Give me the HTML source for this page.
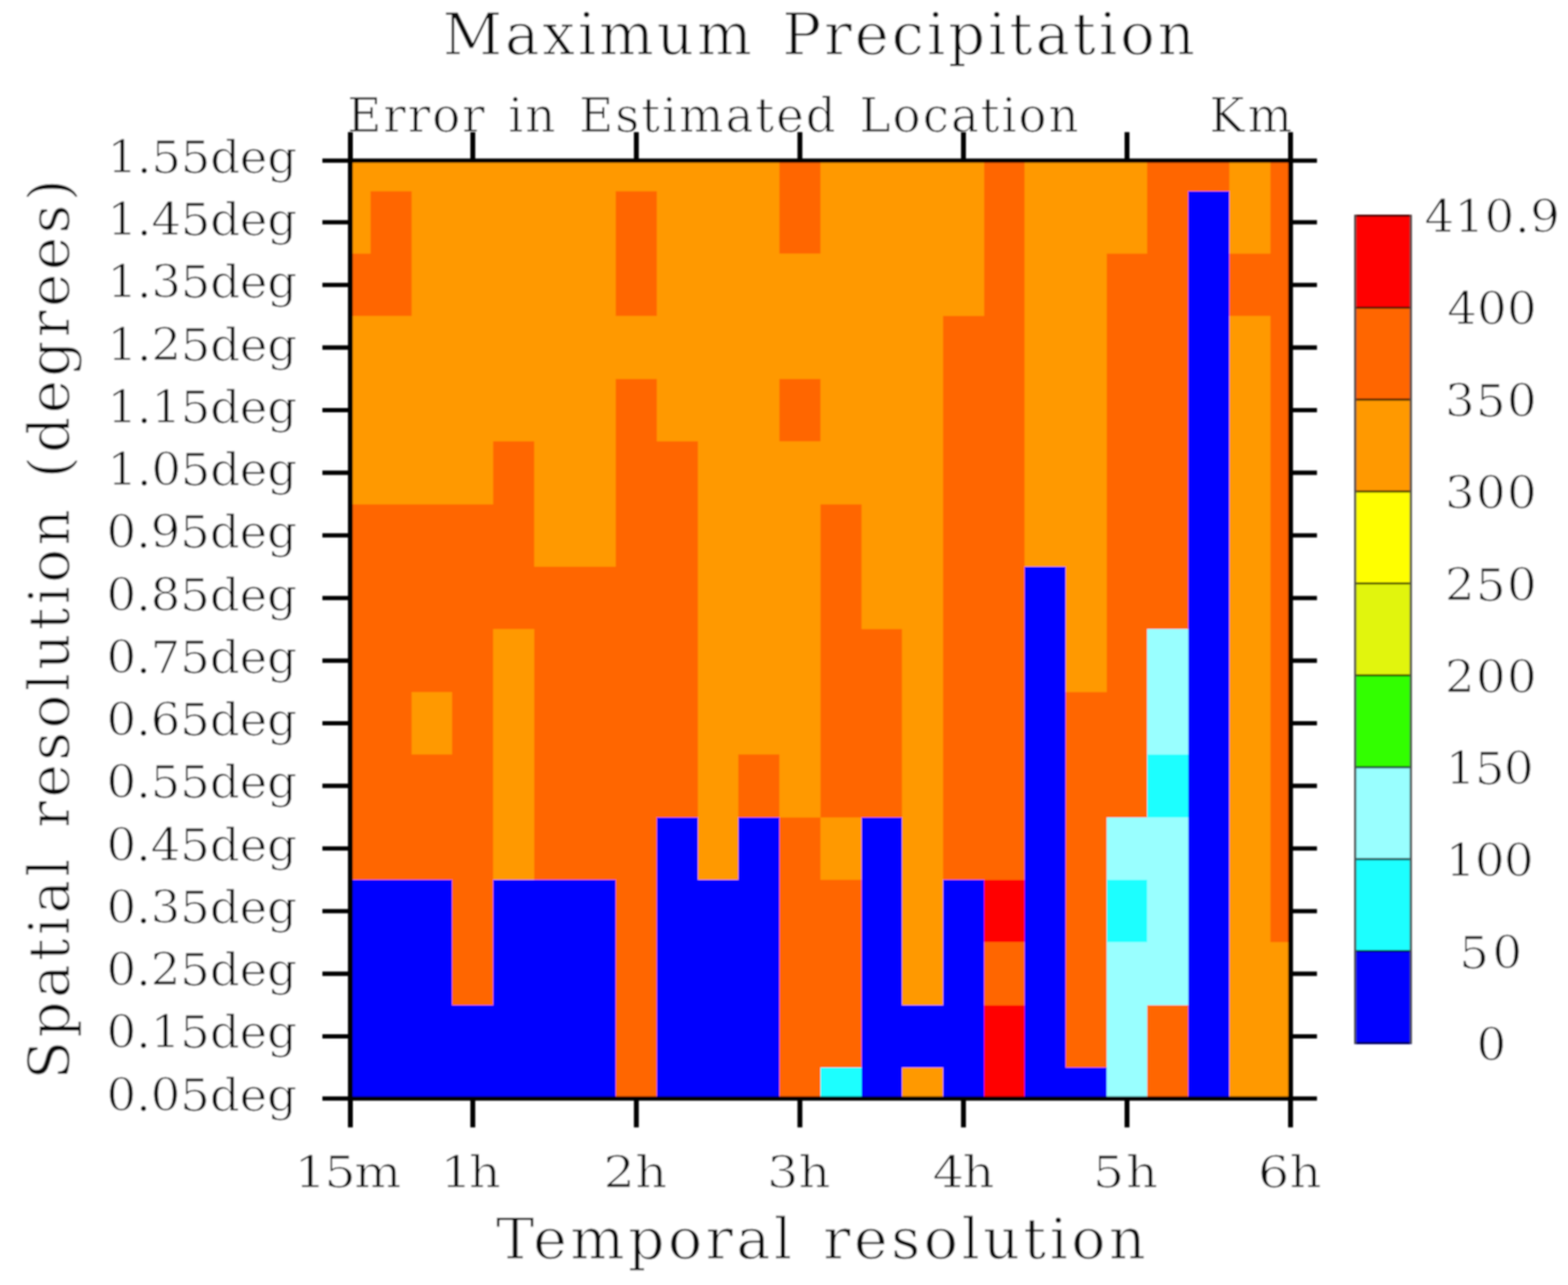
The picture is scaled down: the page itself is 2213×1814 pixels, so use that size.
<!DOCTYPE html>
<html lang="en"><head><meta charset="utf-8"><title>Maximum Precipitation</title>
<style>
html,body{margin:0;padding:0;background:#fff;}
body{width:2213px;height:1814px;overflow:hidden;}
svg{display:block;}
text{font-family:'DejaVu Serif', 'Liberation Serif', serif;font-stretch:normal;font-weight:400;font-style:normal;fill:#0a0a0a;white-space:pre;}
</style></head><body>
<svg width="2213" height="1814" viewBox="0 0 2213 1814" role="img" aria-label="Maximum Precipitation heat map">
<defs><filter id="ft" filterUnits="userSpaceOnUse" x="0" y="0" width="2213" height="1814"><feGaussianBlur stdDeviation="0.85"/></filter><filter id="fg" filterUnits="userSpaceOnUse" x="0" y="0" width="2213" height="1814"><feGaussianBlur stdDeviation="0.85"/></filter></defs>
<rect x="0" y="0" width="2213" height="1814" fill="#ffffff"/>
<g filter="url(#ft)" stroke="#fff" stroke-linejoin="round">
<text transform="translate(624.70 77.00)" font-size="82.0" stroke-width="1.35" letter-spacing="3.815" word-spacing="9.0">Maximum Precipitation</text>
<text transform="translate(490.00 185.70)" font-size="66.4" stroke-width="1.1" letter-spacing="2.604" word-spacing="7.0">Error in Estimated Location</text>
<text transform="translate(1706.70 185.70)" font-size="66.4" stroke-width="1.1" letter-spacing="4.500">Km</text>
<text transform="translate(700.00 1777.30)" font-size="81.0" stroke-width="1.35" letter-spacing="4.550" word-spacing="9.0">Temporal resolution</text>
<text transform="translate(97.60 1524.00) rotate(-90)" font-size="80.0" stroke-width="1.35" letter-spacing="4.519" word-spacing="9.0">Spatial resolution (degrees)</text>
<text transform="translate(151.44 243.90) scale(1.045 1)" font-size="63.4" stroke-width="1.1" letter-spacing="-0.582">1.55deg</text>
<text transform="translate(151.44 332.15) scale(1.045 1)" font-size="63.4" stroke-width="1.1" letter-spacing="-0.582">1.45deg</text>
<text transform="translate(151.44 420.39) scale(1.045 1)" font-size="63.4" stroke-width="1.1" letter-spacing="-0.582">1.35deg</text>
<text transform="translate(151.44 508.64) scale(1.045 1)" font-size="63.4" stroke-width="1.1" letter-spacing="-0.582">1.25deg</text>
<text transform="translate(151.44 596.89) scale(1.045 1)" font-size="63.4" stroke-width="1.1" letter-spacing="-0.582">1.15deg</text>
<text transform="translate(151.44 685.13) scale(1.045 1)" font-size="63.4" stroke-width="1.1" letter-spacing="-0.582">1.05deg</text>
<text transform="translate(150.22 773.38) scale(1.045 1)" font-size="63.4" stroke-width="1.1" letter-spacing="-0.388">0.95deg</text>
<text transform="translate(150.22 861.63) scale(1.045 1)" font-size="63.4" stroke-width="1.1" letter-spacing="-0.388">0.85deg</text>
<text transform="translate(150.22 949.87) scale(1.045 1)" font-size="63.4" stroke-width="1.1" letter-spacing="-0.388">0.75deg</text>
<text transform="translate(150.22 1038.12) scale(1.045 1)" font-size="63.4" stroke-width="1.1" letter-spacing="-0.388">0.65deg</text>
<text transform="translate(150.22 1126.37) scale(1.045 1)" font-size="63.4" stroke-width="1.1" letter-spacing="-0.388">0.55deg</text>
<text transform="translate(150.22 1214.61) scale(1.045 1)" font-size="63.4" stroke-width="1.1" letter-spacing="-0.388">0.45deg</text>
<text transform="translate(150.22 1302.86) scale(1.045 1)" font-size="63.4" stroke-width="1.1" letter-spacing="-0.388">0.35deg</text>
<text transform="translate(150.22 1391.11) scale(1.045 1)" font-size="63.4" stroke-width="1.1" letter-spacing="-0.388">0.25deg</text>
<text transform="translate(150.22 1479.35) scale(1.045 1)" font-size="63.4" stroke-width="1.1" letter-spacing="-0.388">0.15deg</text>
<text transform="translate(150.22 1567.60) scale(1.045 1)" font-size="63.4" stroke-width="1.1" letter-spacing="-0.388">0.05deg</text>
<text transform="translate(415.44 1675.80) scale(1.12 1)" font-size="62.6" stroke-width="1.1" letter-spacing="-2.089">15m</text>
<text transform="translate(621.43 1675.80) scale(1.12 1)" font-size="62.6" stroke-width="1.1" letter-spacing="-3.929">1h</text>
<text transform="translate(851.42 1675.80) scale(1.12 1)" font-size="62.6" stroke-width="1.1" letter-spacing="0.482">2h</text>
<text transform="translate(1082.60 1675.80) scale(1.12 1)" font-size="62.6" stroke-width="1.1" letter-spacing="-0.232">3h</text>
<text transform="translate(1315.89 1675.80) scale(1.12 1)" font-size="62.6" stroke-width="1.1" letter-spacing="-1.714">4h</text>
<text transform="translate(1542.30 1675.80) scale(1.12 1)" font-size="62.6" stroke-width="1.1" letter-spacing="2.107">5h</text>
<text transform="translate(1775.32 1675.80) scale(1.12 1)" font-size="62.6" stroke-width="1.1" letter-spacing="0.107">6h</text>
<text transform="translate(2010.21 328.00) scale(1.045 1)" font-size="63.4" stroke-width="1.1" letter-spacing="0.413">410.9</text>
<text transform="translate(2042.36 457.90) scale(1.045 1)" font-size="63.4" stroke-width="1.1" letter-spacing="0.060">400</text>
<text transform="translate(2039.22 587.80) scale(1.045 1)" font-size="63.4" stroke-width="1.1" letter-spacing="1.560">350</text>
<text transform="translate(2039.22 717.70) scale(1.045 1)" font-size="63.4" stroke-width="1.1" letter-spacing="1.560">300</text>
<text transform="translate(2039.22 847.60) scale(1.045 1)" font-size="63.4" stroke-width="1.1" letter-spacing="1.560">250</text>
<text transform="translate(2039.22 977.50) scale(1.045 1)" font-size="63.4" stroke-width="1.1" letter-spacing="1.560">200</text>
<text transform="translate(2040.24 1107.40) scale(1.045 1)" font-size="63.4" stroke-width="1.1" letter-spacing="-0.911">150</text>
<text transform="translate(2040.24 1237.30) scale(1.045 1)" font-size="63.4" stroke-width="1.1" letter-spacing="-0.911">100</text>
<text transform="translate(2059.43 1367.20) scale(1.045 1)" font-size="63.4" stroke-width="1.1" letter-spacing="4.450">50</text>
<text transform="translate(2083.77 1497.10) scale(1.045 1)" font-size="63.4" stroke-width="1.1" letter-spacing="0.000">0</text>
</g>
<g filter="url(#fg)">
<g shape-rendering="crispEdges">
<rect x="494.50" y="226.70" width="606.20" height="43.50" fill="#ff9900"/>
<rect x="1100.10" y="226.70" width="58.31" height="43.50" fill="#ff6600"/>
<rect x="1157.81" y="226.70" width="231.44" height="43.50" fill="#ff9900"/>
<rect x="1388.65" y="226.70" width="58.31" height="43.50" fill="#ff6600"/>
<rect x="1446.36" y="226.70" width="173.73" height="43.50" fill="#ff9900"/>
<rect x="1619.49" y="226.70" width="116.02" height="43.50" fill="#ff6600"/>
<rect x="1734.91" y="226.70" width="58.31" height="43.50" fill="#ff9900"/>
<rect x="1792.62" y="226.70" width="29.38" height="43.50" fill="#ff6600"/>
<rect x="494.50" y="269.60" width="29.10" height="89.00" fill="#ff9900"/>
<rect x="523.00" y="269.60" width="58.31" height="89.00" fill="#ff6600"/>
<rect x="580.71" y="269.60" width="289.15" height="89.00" fill="#ff9900"/>
<rect x="869.26" y="269.60" width="58.31" height="89.00" fill="#ff6600"/>
<rect x="926.97" y="269.60" width="173.73" height="89.00" fill="#ff9900"/>
<rect x="1100.10" y="269.60" width="58.31" height="89.00" fill="#ff6600"/>
<rect x="1157.81" y="269.60" width="231.44" height="89.00" fill="#ff9900"/>
<rect x="1388.65" y="269.60" width="58.31" height="89.00" fill="#ff6600"/>
<rect x="1446.36" y="269.60" width="173.73" height="89.00" fill="#ff9900"/>
<rect x="1619.49" y="269.60" width="58.31" height="89.00" fill="#ff6600"/>
<rect x="1677.20" y="269.60" width="58.31" height="89.00" fill="#0000ff"/>
<rect x="1734.91" y="269.60" width="58.31" height="89.00" fill="#ff9900"/>
<rect x="1792.62" y="269.60" width="29.38" height="89.00" fill="#ff6600"/>
<rect x="494.50" y="358.00" width="86.81" height="89.00" fill="#ff6600"/>
<rect x="580.71" y="358.00" width="289.15" height="89.00" fill="#ff9900"/>
<rect x="869.26" y="358.00" width="58.31" height="89.00" fill="#ff6600"/>
<rect x="926.97" y="358.00" width="462.28" height="89.00" fill="#ff9900"/>
<rect x="1388.65" y="358.00" width="58.31" height="89.00" fill="#ff6600"/>
<rect x="1446.36" y="358.00" width="116.02" height="89.00" fill="#ff9900"/>
<rect x="1561.78" y="358.00" width="116.02" height="89.00" fill="#ff6600"/>
<rect x="1677.20" y="358.00" width="58.31" height="89.00" fill="#0000ff"/>
<rect x="1734.91" y="358.00" width="87.09" height="89.00" fill="#ff6600"/>
<rect x="494.50" y="446.40" width="837.04" height="89.00" fill="#ff9900"/>
<rect x="1330.94" y="446.40" width="116.02" height="89.00" fill="#ff6600"/>
<rect x="1446.36" y="446.40" width="116.02" height="89.00" fill="#ff9900"/>
<rect x="1561.78" y="446.40" width="116.02" height="89.00" fill="#ff6600"/>
<rect x="1677.20" y="446.40" width="58.31" height="89.00" fill="#0000ff"/>
<rect x="1734.91" y="446.40" width="58.31" height="89.00" fill="#ff9900"/>
<rect x="1792.62" y="446.40" width="29.38" height="89.00" fill="#ff6600"/>
<rect x="494.50" y="534.80" width="375.36" height="89.00" fill="#ff9900"/>
<rect x="869.26" y="534.80" width="58.31" height="89.00" fill="#ff6600"/>
<rect x="926.97" y="534.80" width="173.73" height="89.00" fill="#ff9900"/>
<rect x="1100.10" y="534.80" width="58.31" height="89.00" fill="#ff6600"/>
<rect x="1157.81" y="534.80" width="173.73" height="89.00" fill="#ff9900"/>
<rect x="1330.94" y="534.80" width="116.02" height="89.00" fill="#ff6600"/>
<rect x="1446.36" y="534.80" width="116.02" height="89.00" fill="#ff9900"/>
<rect x="1561.78" y="534.80" width="116.02" height="89.00" fill="#ff6600"/>
<rect x="1677.20" y="534.80" width="58.31" height="89.00" fill="#0000ff"/>
<rect x="1734.91" y="534.80" width="58.31" height="89.00" fill="#ff9900"/>
<rect x="1792.62" y="534.80" width="29.38" height="89.00" fill="#ff6600"/>
<rect x="494.50" y="623.20" width="202.23" height="89.00" fill="#ff9900"/>
<rect x="696.13" y="623.20" width="58.31" height="89.00" fill="#ff6600"/>
<rect x="753.84" y="623.20" width="116.02" height="89.00" fill="#ff9900"/>
<rect x="869.26" y="623.20" width="116.02" height="89.00" fill="#ff6600"/>
<rect x="984.68" y="623.20" width="346.86" height="89.00" fill="#ff9900"/>
<rect x="1330.94" y="623.20" width="116.02" height="89.00" fill="#ff6600"/>
<rect x="1446.36" y="623.20" width="116.02" height="89.00" fill="#ff9900"/>
<rect x="1561.78" y="623.20" width="116.02" height="89.00" fill="#ff6600"/>
<rect x="1677.20" y="623.20" width="58.31" height="89.00" fill="#0000ff"/>
<rect x="1734.91" y="623.20" width="58.31" height="89.00" fill="#ff9900"/>
<rect x="1792.62" y="623.20" width="29.38" height="89.00" fill="#ff6600"/>
<rect x="494.50" y="711.60" width="259.94" height="89.00" fill="#ff6600"/>
<rect x="753.84" y="711.60" width="116.02" height="89.00" fill="#ff9900"/>
<rect x="869.26" y="711.60" width="116.02" height="89.00" fill="#ff6600"/>
<rect x="984.68" y="711.60" width="173.73" height="89.00" fill="#ff9900"/>
<rect x="1157.81" y="711.60" width="58.31" height="89.00" fill="#ff6600"/>
<rect x="1215.52" y="711.60" width="116.02" height="89.00" fill="#ff9900"/>
<rect x="1330.94" y="711.60" width="116.02" height="89.00" fill="#ff6600"/>
<rect x="1446.36" y="711.60" width="116.02" height="89.00" fill="#ff9900"/>
<rect x="1561.78" y="711.60" width="116.02" height="89.00" fill="#ff6600"/>
<rect x="1677.20" y="711.60" width="58.31" height="89.00" fill="#0000ff"/>
<rect x="1734.91" y="711.60" width="58.31" height="89.00" fill="#ff9900"/>
<rect x="1792.62" y="711.60" width="29.38" height="89.00" fill="#ff6600"/>
<rect x="494.50" y="800.00" width="490.78" height="89.00" fill="#ff6600"/>
<rect x="984.68" y="800.00" width="173.73" height="89.00" fill="#ff9900"/>
<rect x="1157.81" y="800.00" width="58.31" height="89.00" fill="#ff6600"/>
<rect x="1215.52" y="800.00" width="116.02" height="89.00" fill="#ff9900"/>
<rect x="1330.94" y="800.00" width="116.02" height="89.00" fill="#ff6600"/>
<rect x="1446.36" y="800.00" width="58.31" height="89.00" fill="#0000ff"/>
<rect x="1504.07" y="800.00" width="58.31" height="89.00" fill="#ff9900"/>
<rect x="1561.78" y="800.00" width="116.02" height="89.00" fill="#ff6600"/>
<rect x="1677.20" y="800.00" width="58.31" height="89.00" fill="#0000ff"/>
<rect x="1734.91" y="800.00" width="58.31" height="89.00" fill="#ff9900"/>
<rect x="1792.62" y="800.00" width="29.38" height="89.00" fill="#ff6600"/>
<rect x="494.50" y="888.40" width="202.23" height="89.00" fill="#ff6600"/>
<rect x="696.13" y="888.40" width="58.31" height="89.00" fill="#ff9900"/>
<rect x="753.84" y="888.40" width="231.44" height="89.00" fill="#ff6600"/>
<rect x="984.68" y="888.40" width="173.73" height="89.00" fill="#ff9900"/>
<rect x="1157.81" y="888.40" width="116.02" height="89.00" fill="#ff6600"/>
<rect x="1273.23" y="888.40" width="58.31" height="89.00" fill="#ff9900"/>
<rect x="1330.94" y="888.40" width="116.02" height="89.00" fill="#ff6600"/>
<rect x="1446.36" y="888.40" width="58.31" height="89.00" fill="#0000ff"/>
<rect x="1504.07" y="888.40" width="58.31" height="89.00" fill="#ff9900"/>
<rect x="1561.78" y="888.40" width="58.31" height="89.00" fill="#ff6600"/>
<rect x="1619.49" y="888.40" width="58.31" height="89.00" fill="#99ffff"/>
<rect x="1677.20" y="888.40" width="58.31" height="89.00" fill="#0000ff"/>
<rect x="1734.91" y="888.40" width="58.31" height="89.00" fill="#ff9900"/>
<rect x="1792.62" y="888.40" width="29.38" height="89.00" fill="#ff6600"/>
<rect x="494.50" y="976.80" width="86.81" height="89.00" fill="#ff6600"/>
<rect x="580.71" y="976.80" width="58.31" height="89.00" fill="#ff9900"/>
<rect x="638.42" y="976.80" width="58.31" height="89.00" fill="#ff6600"/>
<rect x="696.13" y="976.80" width="58.31" height="89.00" fill="#ff9900"/>
<rect x="753.84" y="976.80" width="231.44" height="89.00" fill="#ff6600"/>
<rect x="984.68" y="976.80" width="173.73" height="89.00" fill="#ff9900"/>
<rect x="1157.81" y="976.80" width="116.02" height="89.00" fill="#ff6600"/>
<rect x="1273.23" y="976.80" width="58.31" height="89.00" fill="#ff9900"/>
<rect x="1330.94" y="976.80" width="116.02" height="89.00" fill="#ff6600"/>
<rect x="1446.36" y="976.80" width="58.31" height="89.00" fill="#0000ff"/>
<rect x="1504.07" y="976.80" width="116.02" height="89.00" fill="#ff6600"/>
<rect x="1619.49" y="976.80" width="58.31" height="89.00" fill="#99ffff"/>
<rect x="1677.20" y="976.80" width="58.31" height="89.00" fill="#0000ff"/>
<rect x="1734.91" y="976.80" width="58.31" height="89.00" fill="#ff9900"/>
<rect x="1792.62" y="976.80" width="29.38" height="89.00" fill="#ff6600"/>
<rect x="494.50" y="1065.20" width="202.23" height="89.00" fill="#ff6600"/>
<rect x="696.13" y="1065.20" width="58.31" height="89.00" fill="#ff9900"/>
<rect x="753.84" y="1065.20" width="231.44" height="89.00" fill="#ff6600"/>
<rect x="984.68" y="1065.20" width="58.31" height="89.00" fill="#ff9900"/>
<rect x="1042.39" y="1065.20" width="58.31" height="89.00" fill="#ff6600"/>
<rect x="1100.10" y="1065.20" width="58.31" height="89.00" fill="#ff9900"/>
<rect x="1157.81" y="1065.20" width="116.02" height="89.00" fill="#ff6600"/>
<rect x="1273.23" y="1065.20" width="58.31" height="89.00" fill="#ff9900"/>
<rect x="1330.94" y="1065.20" width="116.02" height="89.00" fill="#ff6600"/>
<rect x="1446.36" y="1065.20" width="58.31" height="89.00" fill="#0000ff"/>
<rect x="1504.07" y="1065.20" width="116.02" height="89.00" fill="#ff6600"/>
<rect x="1619.49" y="1065.20" width="58.31" height="89.00" fill="#1cffff"/>
<rect x="1677.20" y="1065.20" width="58.31" height="89.00" fill="#0000ff"/>
<rect x="1734.91" y="1065.20" width="58.31" height="89.00" fill="#ff9900"/>
<rect x="1792.62" y="1065.20" width="29.38" height="89.00" fill="#ff6600"/>
<rect x="494.50" y="1153.60" width="202.23" height="89.00" fill="#ff6600"/>
<rect x="696.13" y="1153.60" width="58.31" height="89.00" fill="#ff9900"/>
<rect x="753.84" y="1153.60" width="173.73" height="89.00" fill="#ff6600"/>
<rect x="926.97" y="1153.60" width="58.31" height="89.00" fill="#0000ff"/>
<rect x="984.68" y="1153.60" width="58.31" height="89.00" fill="#ff9900"/>
<rect x="1042.39" y="1153.60" width="58.31" height="89.00" fill="#0000ff"/>
<rect x="1100.10" y="1153.60" width="58.31" height="89.00" fill="#ff6600"/>
<rect x="1157.81" y="1153.60" width="58.31" height="89.00" fill="#ff9900"/>
<rect x="1215.52" y="1153.60" width="58.31" height="89.00" fill="#0000ff"/>
<rect x="1273.23" y="1153.60" width="58.31" height="89.00" fill="#ff9900"/>
<rect x="1330.94" y="1153.60" width="116.02" height="89.00" fill="#ff6600"/>
<rect x="1446.36" y="1153.60" width="58.31" height="89.00" fill="#0000ff"/>
<rect x="1504.07" y="1153.60" width="58.31" height="89.00" fill="#ff6600"/>
<rect x="1561.78" y="1153.60" width="116.02" height="89.00" fill="#99ffff"/>
<rect x="1677.20" y="1153.60" width="58.31" height="89.00" fill="#0000ff"/>
<rect x="1734.91" y="1153.60" width="58.31" height="89.00" fill="#ff9900"/>
<rect x="1792.62" y="1153.60" width="29.38" height="89.00" fill="#ff6600"/>
<rect x="494.50" y="1242.00" width="144.52" height="89.00" fill="#0000ff"/>
<rect x="638.42" y="1242.00" width="58.31" height="89.00" fill="#ff6600"/>
<rect x="696.13" y="1242.00" width="173.73" height="89.00" fill="#0000ff"/>
<rect x="869.26" y="1242.00" width="58.31" height="89.00" fill="#ff6600"/>
<rect x="926.97" y="1242.00" width="173.73" height="89.00" fill="#0000ff"/>
<rect x="1100.10" y="1242.00" width="116.02" height="89.00" fill="#ff6600"/>
<rect x="1215.52" y="1242.00" width="58.31" height="89.00" fill="#0000ff"/>
<rect x="1273.23" y="1242.00" width="58.31" height="89.00" fill="#ff9900"/>
<rect x="1330.94" y="1242.00" width="58.31" height="89.00" fill="#0000ff"/>
<rect x="1388.65" y="1242.00" width="58.31" height="89.00" fill="#ff0000"/>
<rect x="1446.36" y="1242.00" width="58.31" height="89.00" fill="#0000ff"/>
<rect x="1504.07" y="1242.00" width="58.31" height="89.00" fill="#ff6600"/>
<rect x="1561.78" y="1242.00" width="58.31" height="89.00" fill="#1cffff"/>
<rect x="1619.49" y="1242.00" width="58.31" height="89.00" fill="#99ffff"/>
<rect x="1677.20" y="1242.00" width="58.31" height="89.00" fill="#0000ff"/>
<rect x="1734.91" y="1242.00" width="58.31" height="89.00" fill="#ff9900"/>
<rect x="1792.62" y="1242.00" width="29.38" height="89.00" fill="#ff6600"/>
<rect x="494.50" y="1330.40" width="144.52" height="89.00" fill="#0000ff"/>
<rect x="638.42" y="1330.40" width="58.31" height="89.00" fill="#ff6600"/>
<rect x="696.13" y="1330.40" width="173.73" height="89.00" fill="#0000ff"/>
<rect x="869.26" y="1330.40" width="58.31" height="89.00" fill="#ff6600"/>
<rect x="926.97" y="1330.40" width="173.73" height="89.00" fill="#0000ff"/>
<rect x="1100.10" y="1330.40" width="116.02" height="89.00" fill="#ff6600"/>
<rect x="1215.52" y="1330.40" width="58.31" height="89.00" fill="#0000ff"/>
<rect x="1273.23" y="1330.40" width="58.31" height="89.00" fill="#ff9900"/>
<rect x="1330.94" y="1330.40" width="58.31" height="89.00" fill="#0000ff"/>
<rect x="1388.65" y="1330.40" width="58.31" height="89.00" fill="#ff6600"/>
<rect x="1446.36" y="1330.40" width="58.31" height="89.00" fill="#0000ff"/>
<rect x="1504.07" y="1330.40" width="58.31" height="89.00" fill="#ff6600"/>
<rect x="1561.78" y="1330.40" width="116.02" height="89.00" fill="#99ffff"/>
<rect x="1677.20" y="1330.40" width="58.31" height="89.00" fill="#0000ff"/>
<rect x="1734.91" y="1330.40" width="87.09" height="89.00" fill="#ff9900"/>
<rect x="494.50" y="1418.80" width="375.36" height="89.00" fill="#0000ff"/>
<rect x="869.26" y="1418.80" width="58.31" height="89.00" fill="#ff6600"/>
<rect x="926.97" y="1418.80" width="173.73" height="89.00" fill="#0000ff"/>
<rect x="1100.10" y="1418.80" width="116.02" height="89.00" fill="#ff6600"/>
<rect x="1215.52" y="1418.80" width="173.73" height="89.00" fill="#0000ff"/>
<rect x="1388.65" y="1418.80" width="58.31" height="89.00" fill="#ff0000"/>
<rect x="1446.36" y="1418.80" width="58.31" height="89.00" fill="#0000ff"/>
<rect x="1504.07" y="1418.80" width="58.31" height="89.00" fill="#ff6600"/>
<rect x="1561.78" y="1418.80" width="58.31" height="89.00" fill="#99ffff"/>
<rect x="1619.49" y="1418.80" width="58.31" height="89.00" fill="#ff6600"/>
<rect x="1677.20" y="1418.80" width="58.31" height="89.00" fill="#0000ff"/>
<rect x="1734.91" y="1418.80" width="87.09" height="89.00" fill="#ff9900"/>
<rect x="494.50" y="1507.20" width="375.36" height="44.10" fill="#0000ff"/>
<rect x="869.26" y="1507.20" width="58.31" height="44.10" fill="#ff6600"/>
<rect x="926.97" y="1507.20" width="173.73" height="44.10" fill="#0000ff"/>
<rect x="1100.10" y="1507.20" width="58.31" height="44.10" fill="#ff6600"/>
<rect x="1157.81" y="1507.20" width="58.31" height="44.10" fill="#1cffff"/>
<rect x="1215.52" y="1507.20" width="58.31" height="44.10" fill="#0000ff"/>
<rect x="1273.23" y="1507.20" width="58.31" height="44.10" fill="#ff9900"/>
<rect x="1330.94" y="1507.20" width="58.31" height="44.10" fill="#0000ff"/>
<rect x="1388.65" y="1507.20" width="58.31" height="44.10" fill="#ff0000"/>
<rect x="1446.36" y="1507.20" width="116.02" height="44.10" fill="#0000ff"/>
<rect x="1561.78" y="1507.20" width="58.31" height="44.10" fill="#99ffff"/>
<rect x="1619.49" y="1507.20" width="58.31" height="44.10" fill="#ff6600"/>
<rect x="1677.20" y="1507.20" width="58.31" height="44.10" fill="#0000ff"/>
<rect x="1734.91" y="1507.20" width="87.09" height="44.10" fill="#ff9900"/>
</g>
<g stroke="#000" fill="none" stroke-linecap="butt">
<line x1="494.5" y1="186.5" x2="494.5" y2="1591.5" stroke-width="6.9"/>
<line x1="1821.4" y1="186.5" x2="1821.4" y2="1591.5" stroke-width="6.9"/>
<line x1="455.0" y1="226.7" x2="1858.7" y2="226.7" stroke-width="6.1"/>
<line x1="455.0" y1="1550.7" x2="1858.7" y2="1550.7" stroke-width="6.1"/>
<line x1="455.0" y1="313.80" x2="494.5" y2="313.80" stroke-width="6.1"/>
<line x1="1821.4" y1="313.80" x2="1858.7" y2="313.80" stroke-width="6.1"/>
<line x1="455.0" y1="402.20" x2="494.5" y2="402.20" stroke-width="6.1"/>
<line x1="1821.4" y1="402.20" x2="1858.7" y2="402.20" stroke-width="6.1"/>
<line x1="455.0" y1="490.60" x2="494.5" y2="490.60" stroke-width="6.1"/>
<line x1="1821.4" y1="490.60" x2="1858.7" y2="490.60" stroke-width="6.1"/>
<line x1="455.0" y1="579.00" x2="494.5" y2="579.00" stroke-width="6.1"/>
<line x1="1821.4" y1="579.00" x2="1858.7" y2="579.00" stroke-width="6.1"/>
<line x1="455.0" y1="667.40" x2="494.5" y2="667.40" stroke-width="6.1"/>
<line x1="1821.4" y1="667.40" x2="1858.7" y2="667.40" stroke-width="6.1"/>
<line x1="455.0" y1="755.80" x2="494.5" y2="755.80" stroke-width="6.1"/>
<line x1="1821.4" y1="755.80" x2="1858.7" y2="755.80" stroke-width="6.1"/>
<line x1="455.0" y1="844.20" x2="494.5" y2="844.20" stroke-width="6.1"/>
<line x1="1821.4" y1="844.20" x2="1858.7" y2="844.20" stroke-width="6.1"/>
<line x1="455.0" y1="932.60" x2="494.5" y2="932.60" stroke-width="6.1"/>
<line x1="1821.4" y1="932.60" x2="1858.7" y2="932.60" stroke-width="6.1"/>
<line x1="455.0" y1="1021.00" x2="494.5" y2="1021.00" stroke-width="6.1"/>
<line x1="1821.4" y1="1021.00" x2="1858.7" y2="1021.00" stroke-width="6.1"/>
<line x1="455.0" y1="1109.40" x2="494.5" y2="1109.40" stroke-width="6.1"/>
<line x1="1821.4" y1="1109.40" x2="1858.7" y2="1109.40" stroke-width="6.1"/>
<line x1="455.0" y1="1197.80" x2="494.5" y2="1197.80" stroke-width="6.1"/>
<line x1="1821.4" y1="1197.80" x2="1858.7" y2="1197.80" stroke-width="6.1"/>
<line x1="455.0" y1="1286.20" x2="494.5" y2="1286.20" stroke-width="6.1"/>
<line x1="1821.4" y1="1286.20" x2="1858.7" y2="1286.20" stroke-width="6.1"/>
<line x1="455.0" y1="1374.60" x2="494.5" y2="1374.60" stroke-width="6.1"/>
<line x1="1821.4" y1="1374.60" x2="1858.7" y2="1374.60" stroke-width="6.1"/>
<line x1="455.0" y1="1463.00" x2="494.5" y2="1463.00" stroke-width="6.1"/>
<line x1="1821.4" y1="1463.00" x2="1858.7" y2="1463.00" stroke-width="6.1"/>
<line x1="667.27" y1="186.5" x2="667.27" y2="226.7" stroke-width="6.9"/>
<line x1="667.27" y1="1550.7" x2="667.27" y2="1591.5" stroke-width="6.9"/>
<line x1="898.12" y1="186.5" x2="898.12" y2="226.7" stroke-width="6.9"/>
<line x1="898.12" y1="1550.7" x2="898.12" y2="1591.5" stroke-width="6.9"/>
<line x1="1128.95" y1="186.5" x2="1128.95" y2="226.7" stroke-width="6.9"/>
<line x1="1128.95" y1="1550.7" x2="1128.95" y2="1591.5" stroke-width="6.9"/>
<line x1="1359.80" y1="186.5" x2="1359.80" y2="226.7" stroke-width="6.9"/>
<line x1="1359.80" y1="1550.7" x2="1359.80" y2="1591.5" stroke-width="6.9"/>
<line x1="1590.63" y1="186.5" x2="1590.63" y2="226.7" stroke-width="6.9"/>
<line x1="1590.63" y1="1550.7" x2="1590.63" y2="1591.5" stroke-width="6.9"/>
</g>
<g>
<rect x="1911.70" y="303.15" width="80.50" height="131.50" fill="#ff0000"/>
<rect x="1911.70" y="434.35" width="80.50" height="130.05" fill="#ff6600"/>
<rect x="1911.70" y="564.10" width="80.50" height="130.05" fill="#ff9900"/>
<rect x="1911.70" y="693.85" width="80.50" height="130.05" fill="#ffff00"/>
<rect x="1911.70" y="823.60" width="80.50" height="130.05" fill="#e1f507"/>
<rect x="1911.70" y="953.35" width="80.50" height="130.05" fill="#33ff00"/>
<rect x="1911.70" y="1083.10" width="80.50" height="130.05" fill="#99ffff"/>
<rect x="1911.70" y="1212.85" width="80.50" height="130.05" fill="#1cffff"/>
<rect x="1911.70" y="1342.60" width="80.50" height="131.50" fill="#0000ff"/>
<rect x="1914.20" y="303.15" width="75.50" height="2.9" fill="#000" fill-opacity="0.74"/>
<rect x="1914.20" y="432.90" width="75.50" height="2.9" fill="#000" fill-opacity="0.74"/>
<rect x="1914.20" y="562.65" width="75.50" height="2.9" fill="#000" fill-opacity="0.74"/>
<rect x="1914.20" y="692.40" width="75.50" height="2.9" fill="#000" fill-opacity="0.74"/>
<rect x="1914.20" y="822.15" width="75.50" height="2.9" fill="#000" fill-opacity="0.74"/>
<rect x="1914.20" y="951.90" width="75.50" height="2.9" fill="#000" fill-opacity="0.74"/>
<rect x="1914.20" y="1081.65" width="75.50" height="2.9" fill="#000" fill-opacity="0.74"/>
<rect x="1914.20" y="1211.40" width="75.50" height="2.9" fill="#000" fill-opacity="0.74"/>
<rect x="1914.20" y="1341.15" width="75.50" height="2.9" fill="#000" fill-opacity="0.74"/>
<rect x="1914.20" y="1470.90" width="75.50" height="2.9" fill="#000" fill-opacity="0.74"/>
<rect x="1911.30" y="303.15" width="2.9" height="1170.65" fill="#474747"/>
<rect x="1989.70" y="303.15" width="2.9" height="1170.65" fill="#474747"/>
</g>
</g>
</svg>
</body></html>
